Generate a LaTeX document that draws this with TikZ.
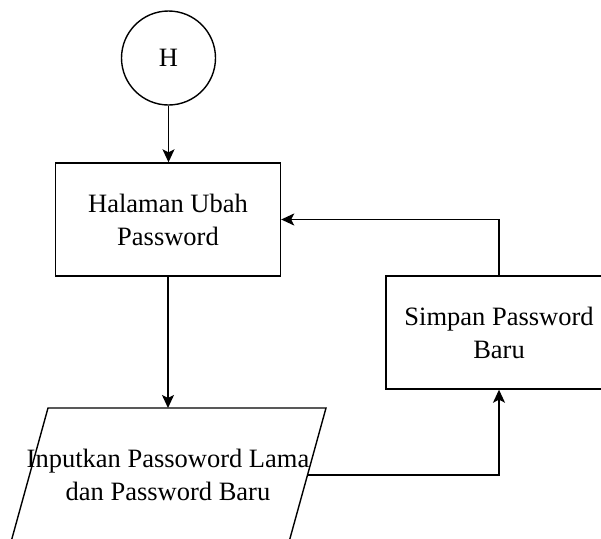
\documentclass[tikz,border=0pt]{standalone}
\usepackage{fontspec}
\setmainfont{Liberation Serif}
\usetikzlibrary{arrows.meta}
\begin{document}
\begin{tikzpicture}[x=1pt, y=-1pt,
  line width=1.4pt,
  flowtxt/.style={font=\fontsize{26.5}{33}\selectfont, align=center, text=black},
  procbox/.style={draw, rectangle, minimum width=225pt, minimum height=113pt, flowtxt, inner sep=0pt},
  connector/.style={draw, -{Stealth[length=13pt, width=12pt, inset=3pt]}},
]
\useasboundingbox (0,0) rectangle (601,538);
\clip (0,0) rectangle (601,538);

% connector circle
\node[draw, circle, minimum size=94pt, inner sep=0pt, flowtxt] (h) at (168.5,58) {H};

% process boxes
\node[procbox] (hal) at (168,219.5) {Halaman Ubah\\Password};
\node[procbox, minimum width=226pt] (simpan) at (499,332.5) {Simpan Password\\Baru};

% input parallelogram
\coordinate (inTL) at (48,408);
\coordinate (inTR) at (326,408);
\coordinate (inBR) at (289,542);
\coordinate (inBL) at (11,542);
\coordinate (inTop) at (168,408);
\coordinate (inRight) at (307.5,475);
\draw (inTL) -- (inTR) -- (inBR) -- (inBL) -- cycle;
\node[flowtxt] (inp) at (168,475) {Inputkan Passoword Lama\\dan Password Baru};

% connectors
\draw[connector] (h.south) -- (h.south |- hal.north);
\draw[connector] (hal.south) -- (inTop);
\draw[connector] (inRight) -| (simpan.south);
\draw[connector] (simpan.north) |- (hal.east);
\end{tikzpicture}
\end{document}
